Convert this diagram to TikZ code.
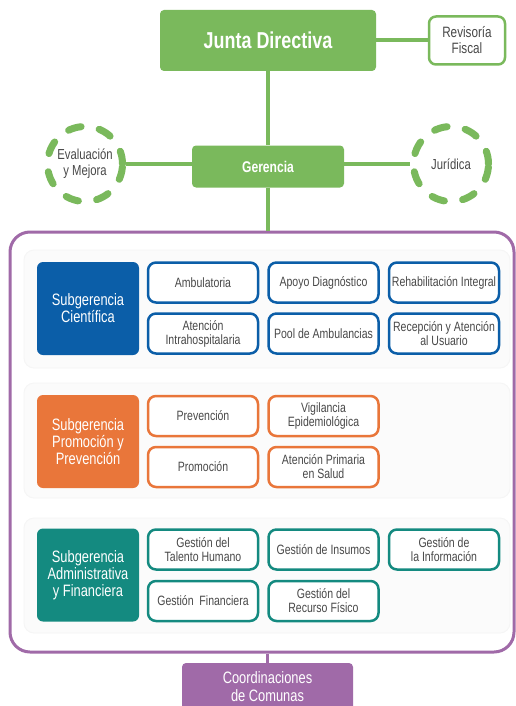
\documentclass[tikz,border=0pt]{standalone}
\usepackage{fontspec}
\setmainfont{Liberation Sans}[FakeStretch=0.78]
\definecolor{cgreen}{RGB}{122,185,92}
\definecolor{cblue}{RGB}{11,94,168}
\definecolor{corange}{RGB}{233,118,58}
\definecolor{cteal}{RGB}{20,138,128}
\definecolor{cpurple}{RGB}{160,106,168}
\definecolor{ctext}{RGB}{72,72,72}
\begin{document}
\begin{tikzpicture}[x=1pt,y=-1pt,
  greenbox/.style={fill=cgreen,draw=none,rounded corners=4pt,text=white,font=\bfseries,inner sep=0pt},
  outbox/.style={fill=white,draw=cgreen,line width=2.5pt,rounded corners=7pt,text=ctext,font=\fontsize{15}{16}\selectfont,align=center,minimum width=76pt,minimum height=48pt,inner sep=0pt},
  dcircle/.style={circle,draw=cgreen,line width=7pt,dash pattern=on 13pt off 18.4pt,line cap=round,minimum size=75pt,inner sep=0pt,text=ctext,font=\fontsize{14.5}{16}\selectfont,align=center},
  gline/.style={draw=cgreen,line width=4pt},
  pline/.style={draw=cpurple,line width=3pt},
  panel/.style={fill=gray!3,draw=gray!8,line width=0.8pt,rounded corners=10pt},
  subbox/.style={rounded corners=6pt,text=white,minimum width=102pt,minimum height=93pt,inner sep=0pt,align=center,font=\fontsize{16.5}{17}\selectfont},
  ubox/.style={fill=white,line width=2.5pt,rounded corners=8pt,minimum width=110pt,minimum height=40pt,inner sep=0pt,align=center,text=ctext,font=\fontsize{13.5}{14}\selectfont},
  bbox/.style={ubox,draw=cblue},
  obox/.style={ubox,draw=corange},
  tbox/.style={ubox,draw=cteal}
]
\useasboundingbox (0,0) rectangle (516,706);
\fill[white] (0,0) rectangle (516,706);
% top
\node[greenbox,minimum width=216pt,minimum height=61pt,font=\bfseries\fontsize{23}{24}\selectfont] (junta) at (268,40.5) {Junta Directiva};
\node[outbox] (rev) at (467,40.5) {Revisoría\\Fiscal};
\node[greenbox,minimum width=152pt,minimum height=42pt,font=\bfseries\fontsize{15.5}{16}\selectfont] (ger) at (268,166.5) {Gerencia};
\node[dcircle] (eval) at (85,164) {Evaluación\\y Mejora};
\node[dcircle] (jur) at (451,164) {Jurídica};
% main purple frame
\node[draw=cpurple,line width=3pt,rounded corners=20pt,minimum width=504pt,minimum height=420pt,inner sep=0pt] (frame) at (262,442) {};
\node[fill=cpurple,rounded corners=4pt,minimum width=171pt,minimum height=50pt,inner sep=0pt] (coord) at (267.5,688) {};
\node[text=white,align=center,font=\fontsize{16.5}{18}\selectfont] (coordt) at (267.5,687) {Coordinaciones\\de Comunas};
% connectors
\draw[gline] (junta.east) -- (rev.west);
\draw[gline] (junta.south) -- (ger.north);
\draw[gline] (eval.east) -- (ger.west |- eval.east);
\draw[gline] (ger.east |- jur.west) -- (jur.west);
\draw[gline] (ger.south) -- (frame.north -| ger.south);
\draw[pline] (frame.south -| coord.north) -- (coord.north);
% panels
\node[panel,minimum width=486pt,minimum height=118pt] (p1) at (267,309) {};
\node[panel,minimum width=486pt,minimum height=115pt] (p2) at (267,440.5) {};
\node[panel,minimum width=486pt,minimum height=115pt] (p3) at (267,575.5) {};
% cientifica
\node[subbox,fill=cblue] (s1) at (88,308.5) {Subgerencia\\Científica};
\node[bbox] (b11) at (203,282.5) {Ambulatoria};
\node[bbox] (b12) at (323.5,282.5) {Apoyo Diagnóstico};
\node[bbox] (b13) at (444,282.5) {Rehabilitación Integral};
\node[bbox] (b21) at (203,333.5) {Atención\\Intrahospitalaria};
\node[bbox] (b22) at (323.5,333.5) {Pool de Ambulancias};
\node[bbox] (b23) at (444,333.5) {Recepción y Atención\\al Usuario};
% promocion
\node[subbox,fill=corange] (s2) at (88,441.5) {Subgerencia\\Promoción y\\Prevención};
\node[obox] (o11) at (203,416) {Prevención};
\node[obox] (o12) at (323.5,416) {Vigilancia\\Epidemiológica};
\node[obox] (o21) at (203,467) {Promoción};
\node[obox] (o22) at (323.5,467) {Atención Primaria\\en Salud};
% administrativa
\node[subbox,fill=cteal] (s3) at (88,575) {Subgerencia\\Administrativa\\y Financiera};
\node[tbox] (t11) at (203,549.5) {Gestión del\\Talento Humano};
\node[tbox] (t12) at (323.5,549.5) {Gestión de Insumos};
\node[tbox] (t13) at (444,549.5) {Gestión de\\la Información};
\node[tbox] (t21) at (203,601) {Gestión\ \ Financiera};
\node[tbox] (t22) at (323.5,601) {Gestión del\\Recurso Físico};
\end{tikzpicture}
\end{document}
